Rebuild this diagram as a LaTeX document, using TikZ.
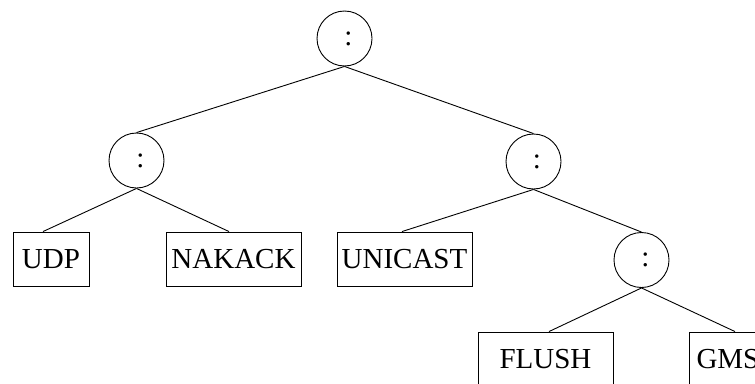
\documentclass[tikz,border=0pt]{standalone}
\usepackage{fontspec}
\setmainfont{Liberation Serif}
\begin{document}
\begin{tikzpicture}[x=1pt,y=-1pt,
  every node/.style={font=\fontsize{29}{34}\selectfont, inner sep=0pt},
  opnode/.style={draw, circle, minimum size=55pt, line width=0.9pt},
  leaf/.style={draw, rectangle, minimum height=54pt, line width=0.9pt},
  edge/.style={line width=0.9pt}]
\clip (0,0) rectangle (755,383);
\node[opnode] (root) at (344.5,38.5) {\hspace*{8pt}:};
\node[opnode] (l) at (136.5,160.5) {\hspace*{8pt}:};
\node[opnode] (r) at (533.5,161.5) {\hspace*{7pt}:};
\node[opnode] (rr) at (641.5,260) {\hspace*{8pt}:};
\node[leaf, minimum width=76pt] (udp) at (51,259) {UDP};
\node[leaf, minimum width=135pt] (nak) at (233.5,259) {NAKACK};
\node[leaf, minimum width=135pt] (uni) at (404.5,259) {UNICAST};
\node[leaf, minimum width=135pt] (flush) at (545.5,359) {FLUSH};
\node[leaf, minimum width=76pt, anchor=west] (gms) at (689,359) {\hspace*{6pt}GMS\hspace*{5pt}};
\draw[edge] (root.south) -- (l.north);
\draw[edge] (root.south) -- (r.north);
\draw[edge] (l.south) -- ([xshift=-8pt]udp.north);
\draw[edge] (l.south) -- ([xshift=-4.5pt]nak.north);
\draw[edge] (r.south) -- ([xshift=-2.5pt]uni.north);
\draw[edge] (r.south) -- (rr.north);
\draw[edge] (rr.south) -- ([xshift=3.5pt]flush.north);
\draw[edge] (rr.south) -- ([xshift=46pt]gms.north west);
\end{tikzpicture}
\end{document}
